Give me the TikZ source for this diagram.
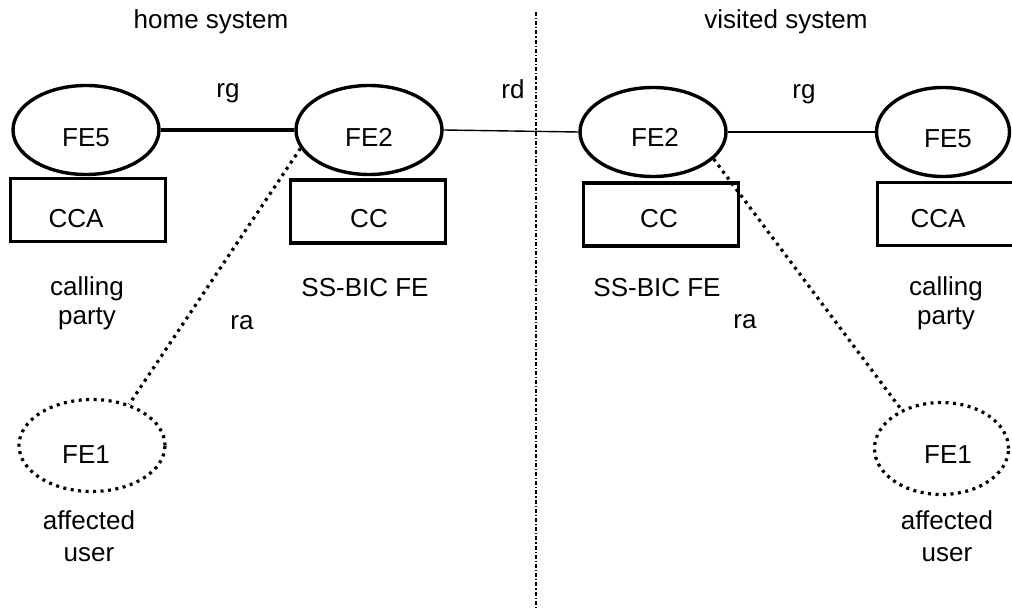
\documentclass[tikz,border=0pt]{standalone}
\usepackage{fontspec}
\setmainfont{Liberation Sans}
\usetikzlibrary{shapes.geometric}
\begin{document}
\begin{tikzpicture}[x=1pt,y=-1pt,
  every node/.style={font=\fontsize{26}{31}\selectfont},
  fe/.style={draw,ellipse,line width=3.4pt,minimum width=146pt,minimum height=89pt,inner sep=0pt},
  feo/.style={draw,ellipse,line width=3.2pt,dash pattern=on 3pt off 4.5pt,minimum width=146pt,minimum height=92pt,inner sep=0pt},
  boxx/.style={draw,rectangle,line width=3.2pt,minimum width=155pt,minimum height=63pt,inner sep=0pt},
  txt/.style={anchor=base,inner sep=0pt,align=center},
  strong/.style={line width=3.4pt},
  thin/.style={line width=1.4pt},
  dots/.style={line width=3.2pt,dash pattern=on 3pt off 4.5pt},
  divider/.style={line width=2.4pt,dash pattern=on 4pt off 2pt on 1.2pt off 2pt}]
\useasboundingbox (0,0) rectangle (1012,609);
% shapes
\node[fe] (fe5L) at (86,130) {};
\node[fe] (fe2L) at (369,130) {};
\node[fe] (fe2R) at (653,132) {};
\node[fe,minimum width=133pt] (fe5R) at (943,132) {};
\node[boxx] (ccaL) at (88,210) {};
\node[boxx] (ccL) at (368,211.5) {};
\node[boxx] (ccR) at (661,214.5) {};
\node[boxx] (ccaR) at (955,214) {};
\node[feo] (fe1L) at (92,445.5) {};
\node[feo,minimum width=134pt] (fe1R) at (941.5,448.5) {};
% divider
\coordinate (dtop) at (536,12);
\coordinate (dbot) at (536,609);
\draw[divider] (dtop) -- (dbot);
% connectors
\draw[strong] (fe5L.east) -- (fe2L.west);
\draw[thin] (fe2L.east) -- (fe2R.west);
\draw[thin] (fe2R.east) -- (fe5R.west);
\draw[dots] (fe2L.195) -- (fe1L.48);
\draw[dots] (fe2R.-24) -- (fe1R.136);
% texts in shapes
\node[txt] (t5L) at (86,147) {FE5};
\node[txt] (t2L) at (369,147) {FE2};
\node[txt] (t2R) at (655,147) {FE2};
\node[txt] (t5R) at (948,148) {FE5};
\node[txt] (tcaL) at (76,228) {CCA};
\node[txt] (tcL) at (369,228) {CC};
\node[txt] (tcR) at (659,228) {CC};
\node[txt] (tcaR) at (938,228) {CCA};
\node[txt] (t1L) at (86,463) {FE1};
\node[txt] (t1R) at (948,463) {FE1};
% labels
\node[txt] (home) at (211,29) {home system};
\node[txt] (visit) at (786,29) {visited system};
\node[txt] (rgL) at (228,98) {rg};
\node[txt] (rd) at (513,99) {rd};
\node[txt] (rgR) at (804,99) {rg};
\node[txt] (callL) at (87,296) {calling};
\node[txt] (partyL) at (87,325) {party};
\node[txt] (callR) at (946,296) {calling};
\node[txt] (partyR) at (946,325) {party};
\node[txt] (ssL) at (365,297) {SS-BIC FE};
\node[txt] (ssR) at (657,297) {SS-BIC FE};
\node[txt] (raL) at (242,330) {ra};
\node[txt] (raR) at (745,329) {ra};
\node[txt] (affL) at (89,529) {affected};
\node[txt] (userL) at (89,561) {user};
\node[txt] (affR) at (947,529) {affected};
\node[txt] (userR) at (947,561) {user};
\end{tikzpicture}
\end{document}
